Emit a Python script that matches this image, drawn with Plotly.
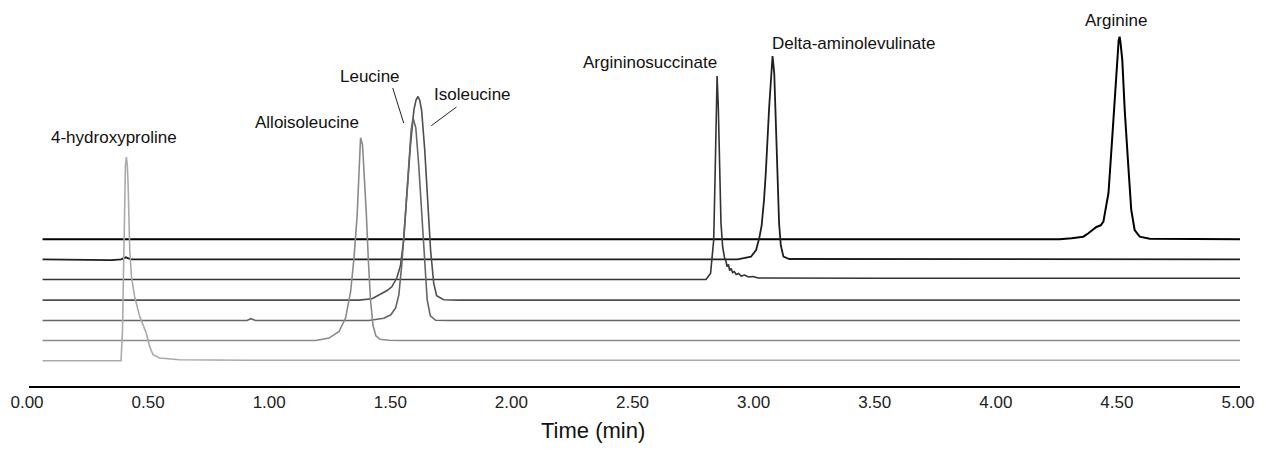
import plotly.graph_objects as go

# Stacked chromatograms: retention time (min) vs. signal above each trace's own baseline.
# Traces listed top to bottom.
COMPOUNDS = ["Arginine", "Delta-aminolevulinate", "Argininosuccinate",
             "Isoleucine", "Leucine", "Alloisoleucine", "4-hydroxyproline"]

# vertical offset of each trace's baseline (same units as the signal)
OFFSETS = [146.7, 126.7, 106.5, 85.9, 65.5, 45.5, 25.3]

t_arg = [0.056, 4.255, 4.305, 4.353, 4.374, 4.394, 4.407, 4.425, 4.436, 4.447, 4.457, 4.471,
         4.484, 4.494, 4.499, 4.503, 4.507, 4.514, 4.524, 4.538, 4.551, 4.565, 4.586, 4.627, 5.0]
h_arg = [0, 0, 1.0, 2.6, 6.0, 9.3, 12.3, 14.0, 17.6, 32.6, 46.3, 96.3,
         146.3, 189.3, 199, 202.6, 196, 179.3, 129.3, 76.3, 29.3, 9.3, 2.6, 0.5, 0]

t_ala = [0.056, 0.30, 0.34, 0.38, 0.40, 0.42, 2.926, 2.981, 3.002, 3.015, 3.025, 3.035, 3.042,
         3.056, 3.066, 3.070, 3.077, 3.086, 3.093, 3.097, 3.104, 3.115, 3.139, 5.0]
h_ala = [0, -0.8, -0.8, 0, 2, 0, 0, 2.6, 9.3, 21, 34, 60, 86,
         152, 192, 203.3, 186, 119, 60, 36, 14, 2.6, 0.3, 0]

t_asa = [0.056, 2.795, 2.814, 2.820, 2.827, 2.833, 2.838, 2.841, 2.846, 2.852, 2.857, 2.864,
         2.871, 2.878, 2.882, 2.888, 2.893, 2.899, 2.905, 2.912, 2.920, 2.930, 2.940, 2.955,
         2.970, 2.990, 3.010, 3.500, 5.0]
h_asa = [0, 0, 6, 23, 39.5, 106.5, 172.5, 203.5, 172.5, 106.5, 56.5, 32.5,
         22.5, 18, 13, 15, 9, 11, 7, 8, 5, 6, 3.5, 4.5,
         2.5, 3, 1.5, 1.2, 1.2]

t_ile = [0.056, 1.362, 1.416, 1.444, 1.477, 1.498, 1.519, 1.534, 1.547, 1.560, 1.575, 1.589,
         1.598, 1.606, 1.613, 1.621, 1.634, 1.646, 1.658, 1.671, 1.683, 1.712, 1.774, 5.0]
h_ile = [0, 0, 1.3, 5.3, 9.3, 13.3, 22.3, 35, 60, 105, 155, 190,
         200, 203.6, 200, 190, 150, 100, 50, 17, 4.3, 0.3, 0, 0]

t_leu = [0.056, 0.900, 0.916, 0.935, 1.403, 1.465, 1.494, 1.514, 1.527, 1.539, 1.554, 1.568,
         1.578, 1.586, 1.597, 1.609, 1.621, 1.634, 1.644, 1.657, 1.679, 1.733, 5.0]
h_leu = [0, 0, 1.8, 0, 0, 2.2, 5.7, 12.7, 25.7, 55.7, 105.7, 160.7,
         190.7, 202.4, 192.7, 155.7, 105.7, 55.7, 20.7, 4.7, 0.2, 0, 0]

t_aile = [0.056, 1.184, 1.239, 1.280, 1.307, 1.328, 1.342, 1.355, 1.364, 1.369, 1.377, 1.385,
          1.393, 1.401, 1.410, 1.420, 1.432, 1.449, 1.486, 1.527, 5.0]
h_aile = [0, 0, 2.4, 9, 22.4, 49, 82.7, 125.7, 175.7, 202.7, 195.7, 165.7,
          125.7, 80.7, 40.7, 15.7, 4.7, 1.2, 0.2, 0, 0]

t_hyp = [0.056, 0.380, 0.386, 0.392, 0.398, 0.402, 0.406, 0.409, 0.416, 0.423, 0.436, 0.457,
         0.484, 0.498, 0.512, 0.539, 0.621, 0.900, 5.0]
h_hyp = [0, 0, 30, 130, 195, 203.7, 195, 177.7, 111, 84.3, 64.3, 44.3,
         27.7, 14.3, 6, 2.7, 1, 0.5, 0.5]

TIMES = [t_arg, t_ala, t_asa, t_ile, t_leu, t_aile, t_hyp]
SIGNALS = [h_arg, h_ala, h_asa, h_ile, h_leu, h_aile, h_hyp]

X_TICKS = [0, 0.5, 1.0, 1.5, 2.0, 2.5, 3.0, 3.5, 4.0, 4.5, 5.0]

COLORS = ["#000000", "#1e1e1e", "#333333", "#4f4f4f", "#666666", "#8a8a8a", "#aaaaaa"]
WIDTHS = [2.0, 1.8, 1.6, 1.6, 1.6, 1.6, 1.6]

# label anchor (time, height) per compound, in the same order as COMPOUNDS
LABEL_POS = [(4.49, 366), (3.403, 343), (2.564, 323.3),
             (1.830, 291.7), (1.407, 310), (1.147, 263.3), (0.349, 249)]

FONT = "Liberation Sans, Arial, sans-serif"

fig = go.Figure()
for name, t, h, off, col, w in zip(COMPOUNDS, TIMES, SIGNALS, OFFSETS, COLORS, WIDTHS):
    fig.add_trace(go.Scatter(x=t, y=[v + off for v in h], mode="lines", name=name,
                             line=dict(color=col, width=w), hoverinfo="x+name"))

for name, (lx, ly) in zip(COMPOUNDS, LABEL_POS):
    fig.add_annotation(x=lx, y=ly, text=name, showarrow=False,
                       font=dict(family=FONT, size=17, color="#111111"),
                       xanchor="center", yanchor="middle")

# leader lines for the Leucine / Isoleucine pair
fig.add_shape(type="line", x0=1.502, y0=298, x1=1.547, y1=263, line=dict(color="#222222", width=1))
fig.add_shape(type="line", x0=1.765, y0=279, x1=1.661, y1=260.3, line=dict(color="#222222", width=1))

# axis title, slightly left of centre as in the original, sitting on the figure's bottom edge
fig.add_annotation(x=0.466, y=-0.1569, xref="paper", yref="paper", text="Time (min)",
                   showarrow=False, xanchor="center", yanchor="bottom",
                   font=dict(family=FONT, size=22, color="#111111"))

# the page body adds an 8px border around the figure: size and margins allow for it
fig.update_layout(
    width=1249, height=437, autosize=False,
    margin=dict(l=21, r=13, t=2, b=59),
    paper_bgcolor="white", plot_bgcolor="white",
    showlegend=False,
    xaxis=dict(range=[0, 5], tickvals=X_TICKS, tickformat=".2f",
               ticklabeloverflow="allow", ticklabelshift=-2,
               showgrid=False, zeroline=False, showline=True, linecolor="#000000", linewidth=2,
               ticks="", tickfont=dict(family=FONT, size=17, color="#222222")),
    yaxis=dict(range=[0, 376], visible=False, showgrid=False, zeroline=False),
)

fig.write_html("out.html", config={"displayModeBar": False})
